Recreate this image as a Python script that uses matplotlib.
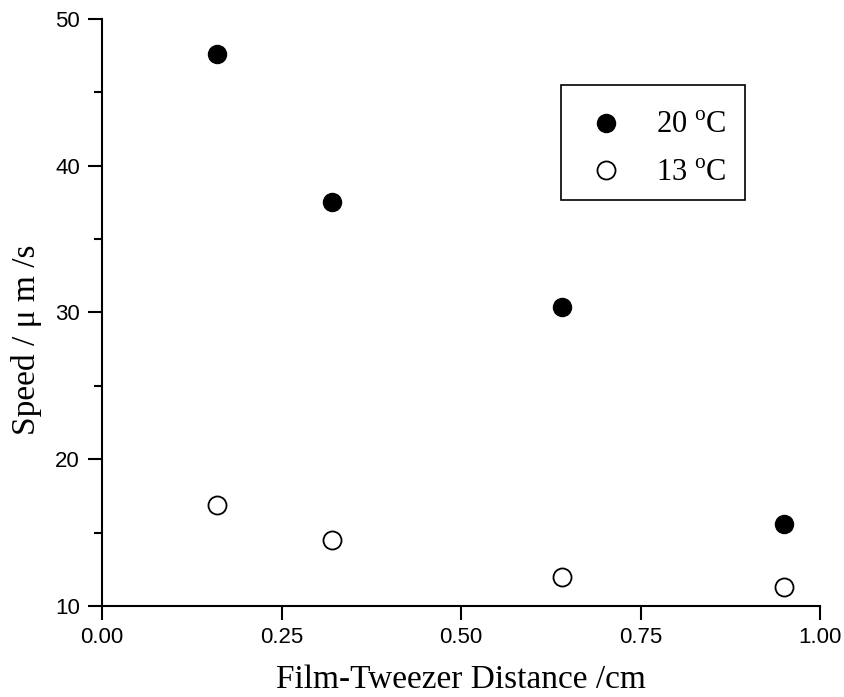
import matplotlib
matplotlib.use("Agg")
import matplotlib.pyplot as plt
from matplotlib.ticker import MultipleLocator
from matplotlib.patches import Rectangle

distance = [0.16, 0.32, 0.64, 0.95]
speed_20 = [47.6, 37.5, 30.4, 15.6]
speed_13 = [16.9, 14.5, 12.0, 11.3]
xticks = [0.00, 0.25, 0.50, 0.75, 1.00]
xticklabels = ["0.00", "0.25", "0.50", "0.75", "1.00"]
yticks = [10, 20, 30, 40, 50]

plt.rcParams['mathtext.fontset'] = 'custom'
plt.rcParams['mathtext.rm'] = 'Liberation Serif'

fig = plt.figure(figsize=(8.44, 6.97), dpi=100)
ax = fig.add_axes([0.1209, 0.1306, 0.8507, 0.8421])

ax.plot(distance, speed_20, 'o', color='black', markersize=13, linestyle='none',
        label='20 $^{\\mathrm{o}}$C')
ax.plot(distance, speed_13, 'o', markerfacecolor='white', markeredgecolor='black',
        markeredgewidth=1.3, markersize=13, linestyle='none', label='13 $^{\\mathrm{o}}$C')

ax.set_xlim(0, 1.0)
ax.set_ylim(10, 50)
ax.set_xticks(xticks)
ax.set_xticklabels(xticklabels)
ax.set_yticks(yticks)
ax.yaxis.set_minor_locator(MultipleLocator(5))

for s in ['top', 'right']:
    ax.spines[s].set_visible(False)
for s in ['left', 'bottom']:
    ax.spines[s].set_linewidth(1.5)

ax.tick_params(axis='both', which='major', direction='out', length=10, width=1.5,
               labelsize=16)
ax.tick_params(axis='y', which='major', pad=6)
ax.tick_params(axis='x', which='major', pad=5)
ax.tick_params(axis='y', which='minor', direction='out', length=6, width=1.5)
for lbl in ax.get_xticklabels() + ax.get_yticklabels():
    lbl.set_fontfamily('Liberation Sans')

ax.set_xlabel('Film-Tweezer Distance /cm', fontfamily='Liberation Serif', fontsize=24,
              labelpad=12)
ax.set_ylabel('Speed / μ m /s', fontfamily='Liberation Serif', fontsize=24)
ax.yaxis.set_label_coords(-0.083, 0.453)

# legend frame
frame = Rectangle((0.6393, 0.6917), 0.8955 - 0.6393, 0.8876 - 0.6917,
                  transform=ax.transAxes, facecolor='white', edgecolor='black',
                  linewidth=1.2, zorder=4)
ax.add_patch(frame)

leg = ax.legend(loc='center', bbox_to_anchor=(0.7703, 0.7777), borderaxespad=0,
                prop={'family': 'Liberation Serif', 'size': 22}, frameon=False,
                handletextpad=0.9, borderpad=0.0, labelspacing=0.6, handlelength=1.5)
leg.set_zorder(5)

fig.savefig('out.png', dpi=100)
